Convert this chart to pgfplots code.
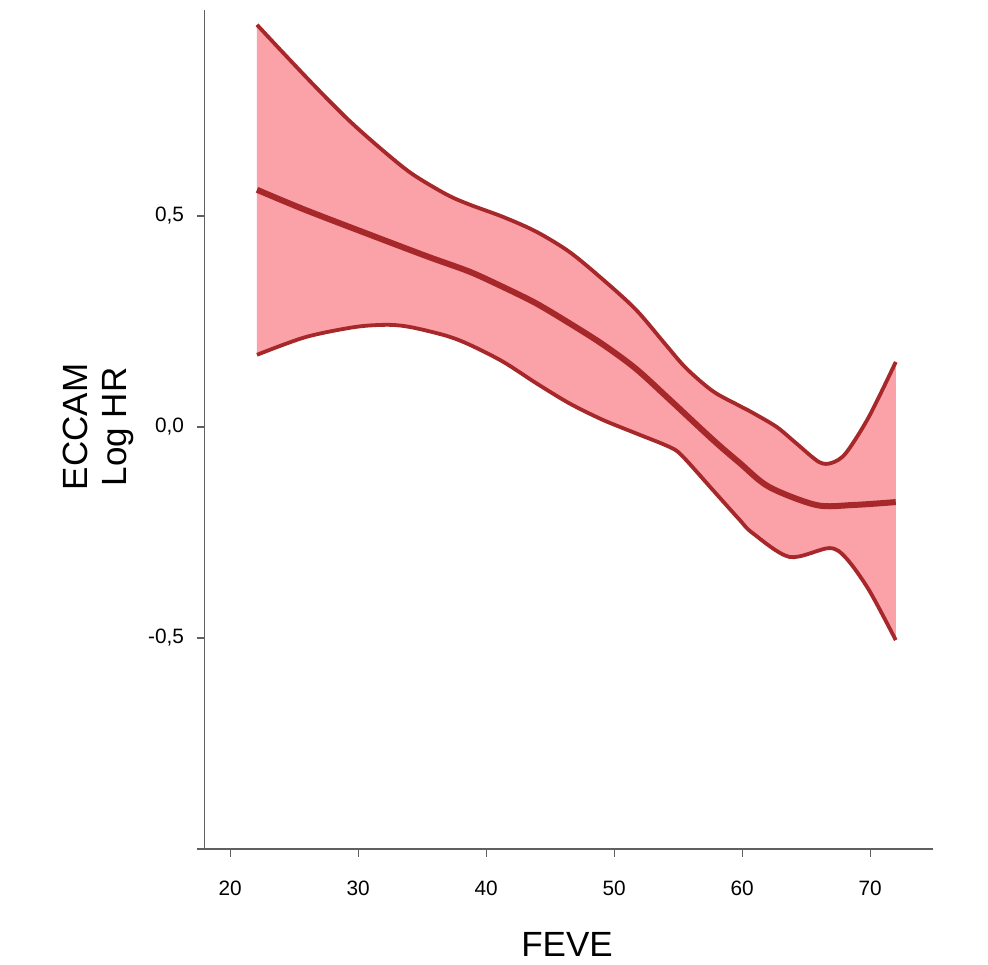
\documentclass[border=0pt]{standalone}
\usepackage{fontspec}
\setmainfont{Liberation Sans}
\usepackage{pgfplots}
\pgfplotsset{compat=1.18}
\usepgfplotslibrary{fillbetween}
\definecolor{bandfill}{RGB}{251,161,168}
\definecolor{curvecol}{RGB}{166,40,42}
\definecolor{axisgray}{RGB}{96,96,96}
\begin{document}
\begin{tikzpicture}
\begin{axis}[
  at={(102.25pt,57.5pt)}, anchor=south west,
  scale only axis, width=364.25pt, height=419.5pt,
  xmin=18, xmax=74.91, ymin=-1, ymax=0.988,
  axis x line*=bottom, axis y line*=left,
  axis line style={axisgray, line width=0.7pt},
  x axis line style={shorten <=-3.75pt},
  tick align=outside, major tick length=3.75pt,
  tick style={axisgray, line width=0.6pt},
  xtick={20,30,40,50,60,70}, xticklabels={20,30,40,50,60,70},
  ytick={-0.5,0,0.5}, yticklabels={{-0,5},{0,0},{0,5}},
  tick label style={font=\fontsize{10.4}{12}\selectfont},
  xticklabel style={yshift=-8.5pt},
  yticklabel style={xshift=-3pt},
  clip=false,
]
\addplot[name path=U, draw=none, smooth] coordinates {
(22.1,0.953)(24.1,0.888)(26.7,0.805)(29.3,0.726)(31.9,0.656)(34.2,0.600)(36.9,0.551)(38.7,0.527)(41.3,0.498)(43.9,0.463)(46.5,0.415)(49.1,0.350)(51.7,0.278)(54.0,0.196)(55.6,0.140)(57.7,0.085)(59.8,0.050)(60.8,0.034)(62.7,0.0)(64.2,-0.038)(66.0,-0.083)(67.0,-0.085)(68.1,-0.062)(69.9,0.024)(72.0,0.154)};
\addplot[name path=L, draw=none, smooth] coordinates {
(22.1,0.171)(25.9,0.213)(29.8,0.237)(32.4,0.242)(34.2,0.236)(36.9,0.216)(38.7,0.195)(41.3,0.155)(43.9,0.104)(46.5,0.056)(49.1,0.017)(51.7,-0.015)(54.3,-0.047)(55.3,-0.068)(57.7,-0.149)(59.8,-0.220)(60.8,-0.251)(63.7,-0.308)(66.8,-0.287)(68.1,-0.310)(69.9,-0.386)(72.0,-0.505)};
\addplot[bandfill, draw=none] fill between[of=U and L];
\addplot[curvecol, line width=1.9pt, smooth] coordinates {
(22.1,0.953)(24.1,0.888)(26.7,0.805)(29.3,0.726)(31.9,0.656)(34.2,0.600)(36.9,0.551)(38.7,0.527)(41.3,0.498)(43.9,0.463)(46.5,0.415)(49.1,0.350)(51.7,0.278)(54.0,0.196)(55.6,0.140)(57.7,0.085)(59.8,0.050)(60.8,0.034)(62.7,0.0)(64.2,-0.038)(66.0,-0.083)(67.0,-0.085)(68.1,-0.062)(69.9,0.024)(72.0,0.154)};
\addplot[curvecol, line width=1.9pt, smooth] coordinates {
(22.1,0.171)(25.9,0.213)(29.8,0.237)(32.4,0.242)(34.2,0.236)(36.9,0.216)(38.7,0.195)(41.3,0.155)(43.9,0.104)(46.5,0.056)(49.1,0.017)(51.7,-0.015)(54.3,-0.047)(55.3,-0.068)(57.7,-0.149)(59.8,-0.220)(60.8,-0.251)(63.7,-0.308)(66.8,-0.287)(68.1,-0.310)(69.9,-0.386)(72.0,-0.505)};
\addplot[curvecol, line width=3pt, smooth] coordinates {
(22.1,0.562)(25.9,0.514)(31.4,0.450)(35.5,0.403)(38.7,0.368)(41.3,0.332)(43.9,0.293)(46.5,0.246)(49.1,0.196)(51.7,0.138)(54.3,0.066)(57.7,-0.030)(59.8,-0.085)(62.1,-0.142)(65.8,-0.185)(68.6,-0.185)(72.0,-0.178)};
\end{axis}
\node[rotate=90, align=center, font=\fontsize{17.5}{19.5}\selectfont] at (49.25pt,268.5pt) {ECCAM\\Log HR};
\node[anchor=base, font=\fontsize{17.5}{20}\selectfont] at (283.5pt,4pt) {FEVE};
\path (0,0) rectangle (494pt,482pt);
\end{tikzpicture}
\end{document}
